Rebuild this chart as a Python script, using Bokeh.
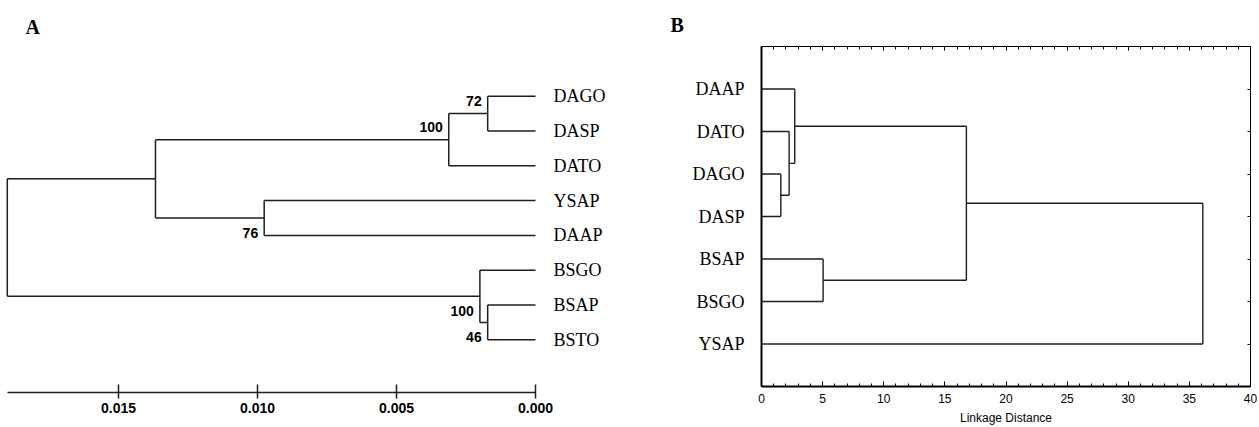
from bokeh.plotting import figure
from bokeh.layouts import row
from bokeh.models import (Range1d, LinearAxis, FixedTicker, SingleIntervalTicker,
                          NumeralTickFormatter, ColumnDataSource)
from bokeh.embed import file_html
from bokeh.resources import INLINE
from bokeh.core.properties import value

# ---------------- Panel A data (NJ tree, distance) ----------------
a_leaves = ["DAGO", "DASP", "DATO", "YSAP", "DAAP", "BSGO", "BSAP", "BSTO"]
# merges: node index = len(leaves) + merge index
a_left = [0, 8, 3, 9, 6, 5, 11]
a_right = [1, 2, 4, 10, 7, 12, 13]
a_height = [0.00172, 0.00312, 0.00976, 0.01367, 0.00172, 0.00200, 0.01900]
a_support = ["72", "100", "76", "", "46", "100", ""]
a_ticks = [0.015, 0.010, 0.005, 0.000]

# ---------------- Panel B data (cluster, linkage distance) ----------------
b_leaves = ["DAAP", "DATO", "DAGO", "DASP", "BSAP", "BSGO", "YSAP"]
b_left = [2, 1, 0, 4, 9, 11]
b_right = [3, 7, 8, 5, 10, 6]
b_height = [1.58, 2.26, 2.72, 5.04, 16.76, 36.1]
b_xmax = 40
b_tick_step = 5

# styling of support labels (above / below the node)
support_side = {0: "above", 1: "above", 2: "below", 4: "below", 5: "below"}

INK = "#1e1e1e"


def dendro(n, left, right, height):
    ys = [i + 1.0 for i in range(n)]
    xs = [0.0] * n
    x0, y0, x1, y1 = [], [], [], []
    for l, r, h in zip(left, right, height):
        x0 += [h, xs[l], xs[r]]
        y0 += [ys[l], ys[l], ys[r]]
        x1 += [h, h, h]
        y1 += [ys[r], ys[l], ys[r]]
        xs.append(h)
        ys.append((ys[l] + ys[r]) / 2.0)
    return dict(x0=x0, y0=y0, x1=x1, y1=y1), xs[n:], ys[n:]


# ======================= Panel A =======================
PXA = 27800.0
pa = figure(frame_width=630, frame_height=346,
            x_range=Range1d(535 / PXA, 535 / PXA - 630 / PXA),
            y_range=Range1d(9.514, -0.428),
            x_axis_type=None, y_axis_type=None,
            toolbar_location=None, output_backend="svg",
            min_border_left=0, min_border_right=0,
            min_border_top=46, min_border_bottom=0)
pa.outline_line_color = None
pa.grid.visible = False
pa.title.text = "A"
pa.title.align = "left"
pa.title.offset = 25
pa.title.standoff = 18
pa.title.text_font = "Liberation Serif"
pa.title.text_font_style = "bold"
pa.title.text_font_size = "20px"
pa.title.text_color = "black"

segs_a, nx_a, ny_a = dendro(len(a_leaves), a_left, a_right, a_height)
pa.segment(x0="x0", y0="y0", x1="x1", y1="y1", source=ColumnDataSource(segs_a),
           line_color=INK, line_width=1.5)

pa.text(x=[0.0] * len(a_leaves), y=[i + 1 for i in range(len(a_leaves))], text=a_leaves,
        x_offset=18, text_align="left", text_baseline="middle",
        text_font=value("Liberation Serif"), text_font_size="18px", text_color="black")

sx, sy, st, so = [], [], [], []
for i, s in enumerate(a_support):
    if s:
        sx.append(nx_a[i]); sy.append(ny_a[i]); st.append(s)
        so.append(-12.5 if support_side[i] == "above" else 15.0)
pa.text(x="x", y="y", text="t", y_offset="o",
        source=ColumnDataSource(dict(x=sx, y=sy, t=st, o=so)),
        x_offset=-6, text_align="right", text_baseline="middle",
        text_font=value("Liberation Sans"), text_font_style="bold",
        text_font_size="14px", text_color="black")

ax_a = LinearAxis(ticker=FixedTicker(ticks=a_ticks, minor_ticks=[]),
                  formatter=NumeralTickFormatter(format="0.000"),
                  bounds=(0, a_height[-1]),
                  axis_line_width=1.5, axis_line_color=INK,
                  major_tick_line_color=INK, major_tick_line_width=1.5,
                  major_tick_in=8, major_tick_out=6,
                  minor_tick_line_color=None,
                  major_label_standoff=4,
                  major_label_text_font="Liberation Sans",
                  major_label_text_font_style="bold",
                  major_label_text_font_size="14px",
                  major_label_text_color="black")
pa.add_layout(ax_a, "below")

# ======================= Panel B =======================
pb = figure(frame_width=489, frame_height=340,
            x_range=Range1d(0, b_xmax), y_range=Range1d(len(b_leaves) + 1, 0),
            x_axis_type=None, y_axis_type=None,
            toolbar_location=None, output_backend="svg",
            min_border_left=131, min_border_right=8,
            min_border_top=46, min_border_bottom=0)
pb.outline_line_color = None
pb.grid.visible = False
pb.title.text = "B"
pb.title.align = "left"
pb.title.offset = -91
pb.title.standoff = 21
pb.title.text_font = "Liberation Serif"
pb.title.text_font_style = "bold"
pb.title.text_font_size = "20px"
pb.title.text_color = "black"

segs_b, nx_b, ny_b = dendro(len(b_leaves), b_left, b_right, b_height)
pb.segment(x0="x0", y0="y0", x1="x1", y1="y1", source=ColumnDataSource(segs_b),
           line_color=INK, line_width=1.4)

leaf_ticks = [i + 1 for i in range(len(b_leaves))]

bottom = LinearAxis(ticker=SingleIntervalTicker(interval=b_tick_step, num_minor_ticks=5),
                    axis_line_width=2, axis_line_color="black",
                    major_tick_in=5, major_tick_out=0, major_tick_line_color="black",
                    minor_tick_in=3, minor_tick_out=0, minor_tick_line_color="black",
                    major_label_standoff=7,
                    major_label_text_font="Liberation Sans",
                    major_label_text_font_size="12px",
                    major_label_text_color="black",
                    axis_label="Linkage Distance",
                    axis_label_standoff=5,
                    axis_label_text_font="Liberation Sans",
                    axis_label_text_font_style="normal",
                    axis_label_text_font_size="12px",
                    axis_label_text_color="black")
pb.add_layout(bottom, "below")

top = LinearAxis(ticker=SingleIntervalTicker(interval=b_tick_step, num_minor_ticks=5),
                 axis_line_width=1, axis_line_color="black",
                 major_tick_in=4, major_tick_out=0, major_tick_line_color="black",
                 minor_tick_in=3, minor_tick_out=0, minor_tick_line_color="black",
                 major_label_standoff=0, major_label_text_font_size="1px",
                 major_label_text_color=None)
pb.add_layout(top, "above")

left = LinearAxis(ticker=FixedTicker(ticks=leaf_ticks, minor_ticks=[]),
                  major_label_overrides={t: n for t, n in zip(leaf_ticks, b_leaves)},
                  axis_line_width=2, axis_line_color="black",
                  major_tick_in=0, major_tick_out=0,
                  major_label_standoff=17,
                  major_label_text_font="Liberation Serif",
                  major_label_text_font_size="18px",
                  major_label_text_color="black")
pb.add_layout(left, "left")

right = LinearAxis(ticker=FixedTicker(ticks=leaf_ticks, minor_ticks=[]),
                   axis_line_width=1, axis_line_color="black",
                   major_tick_in=3, major_tick_out=0, major_tick_line_color="black",
                   major_label_standoff=0, major_label_text_font_size="1px",
                   major_label_text_color=None)
pb.add_layout(right, "right")

layout = row(pa, pb, spacing=0)
open("out.html", "w").write(file_html(layout, INLINE))
